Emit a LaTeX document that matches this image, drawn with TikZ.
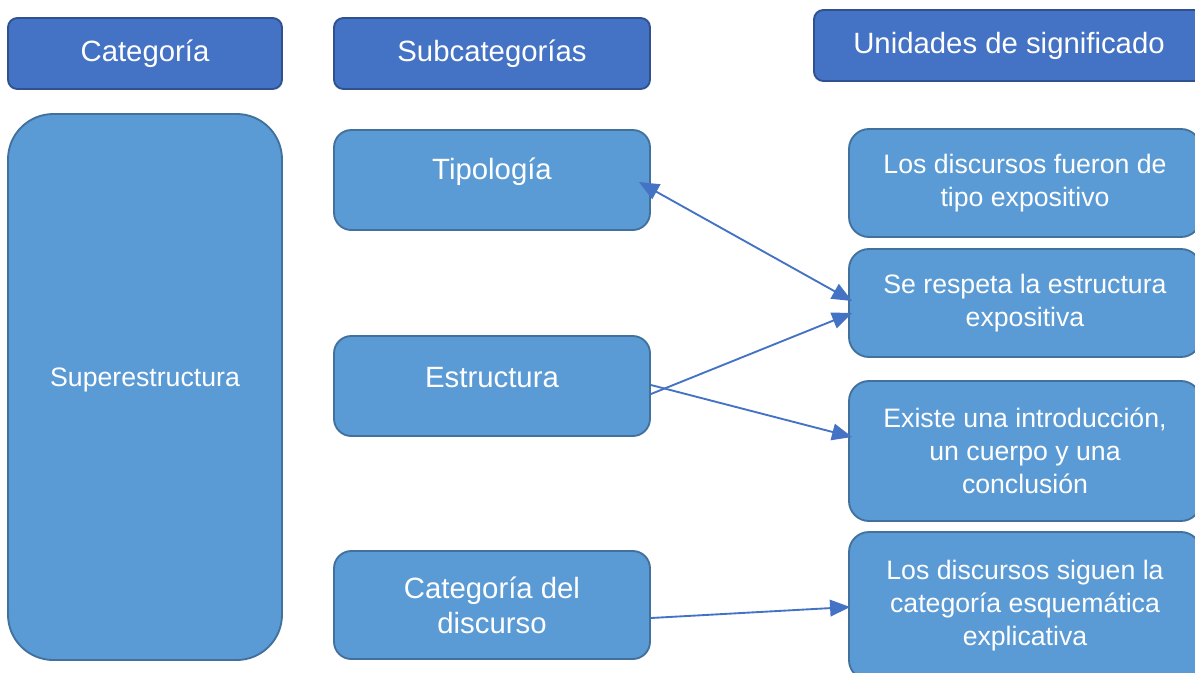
\documentclass[tikz,border=0pt]{standalone}
\usepackage{fontspec}
\setmainfont{Liberation Sans}
\usetikzlibrary{arrows.meta,calc}
\definecolor{hdrfill}{HTML}{4472C4}
\definecolor{hdrline}{HTML}{2F528F}
\definecolor{boxfill}{HTML}{5B9BD5}
\definecolor{boxline}{HTML}{41719C}
\definecolor{arrcol}{HTML}{4472C4}
\begin{document}
\begin{tikzpicture}[x=0.75pt,y=-0.75pt,
  hdrbox/.style={draw=hdrline, fill=hdrfill, line width=1.4pt, rounded corners=7pt,
    text=white, font=\fontsize{22}{26}\selectfont, inner sep=0pt, minimum height=53.25pt},
  subbox/.style={draw=boxline, fill=boxfill, line width=1.4pt, rounded corners=13pt,
    text=white, font=\fontsize{22}{26}\selectfont, inner sep=0pt, minimum width=237pt, align=center},
  unitbox/.style={draw=boxline, fill=boxfill, line width=1.4pt, rounded corners=15pt,
    text=white, font=\fontsize{20}{24.75}\selectfont, inner sep=0pt, minimum width=264pt, align=center},
  bigtxt/.style={text=white, font=\fontsize{22}{26}\selectfont, inner sep=0pt},
  midtxt/.style={text=white, font=\fontsize{20}{24.75}\selectfont, inner sep=0pt},
  tipshape/.tip={Triangle[length=15pt,width=12.5pt]},
  arr/.style={draw=arrcol, line width=1.4pt, -tipshape}
]
\useasboundingbox (0,0) rectangle (1195,672);
\fill[white] (0,0) rectangle (1195,672);

% headers
\node[hdrbox, minimum width=205.5pt] (hcat) at (145,53.5) {Categoría};
\node[hdrbox, minimum width=237pt] (hsub) at (492,53.5) {Subcategorías};
\node[hdrbox, minimum width=292.5pt] (huni) at (1009,45.5) {Unidades de significado};

% category
\node[draw=boxline, fill=boxfill, line width=1.4pt, rounded corners=34pt,
  minimum width=205.5pt, minimum height=409.5pt, inner sep=0pt] (sup) at (145,387) {};
\node[midtxt] (supt) at (145,380) {Superestructura};

% subcategories
\node[subbox, minimum height=75pt] (tip) at (492,180) {};
\node[bigtxt] (tipt) at (492,172) {Tipología};
\node[subbox, minimum height=75pt] (est) at (492,386) {};
\node[bigtxt] (estt) at (492,378) {Estructura};
\node[subbox, minimum height=81pt] (cat) at (492,605) {Categoría del\\discurso};

% units
\node[unitbox, minimum height=81pt] (r1) at (1025,183) {Los discursos fueron de\\tipo expositivo};
\node[unitbox, minimum height=81pt] (r2) at (1025,303) {Se respeta la estructura\\expositiva};
\node[unitbox, minimum height=105pt] (r3) at (1025,451) {Existe una introducción,\\un cuerpo y una\\conclusión};
\node[unitbox, minimum height=111pt] (r4) at (1025,606) {Los discursos siguen la\\categoría esquemática\\explicativa};

% connectors
\draw[arr, tipshape-tipshape]
  ($(tip.east)+(-12,2)$) -- ($(r2.west)+(4,-2)$);
\draw[arr] ($(est.east)+(0,8)$) -- ($(r2.west)+(4,10)$);
\draw[arr] ($(est.east)+(0,-1)$) -- ($(r3.west)+(4,-14)$);
\draw[arr] ($(cat.east)+(0,13)$) -- ($(r4.west)+(2,1)$);
\end{tikzpicture}
\end{document}
